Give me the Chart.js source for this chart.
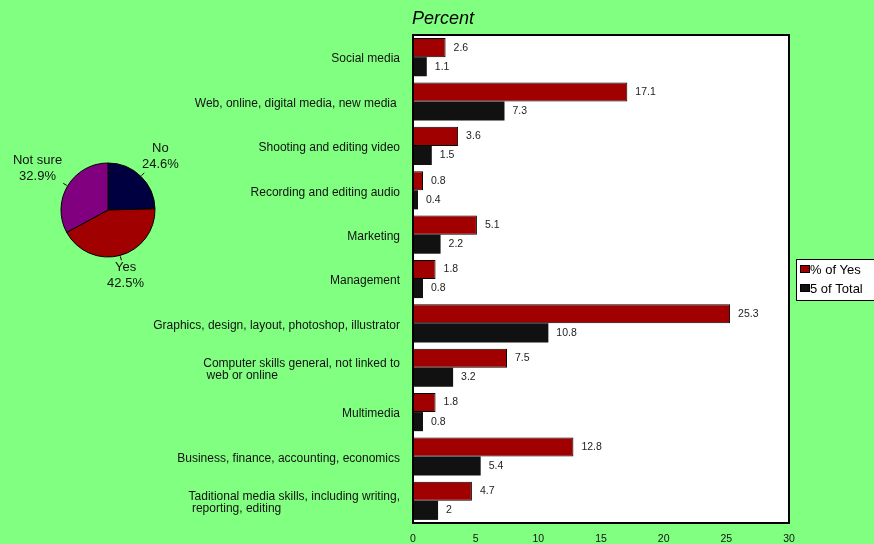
<!DOCTYPE html>
<html><head><meta charset="utf-8">
<script src="https://cdn.jsdelivr.net/npm/chart.js@4.4.1/dist/chart.umd.min.js"></script>
<style>
html,body{margin:0;padding:0;background:#80FF80;}
#wrap{position:relative;width:874px;height:544px;overflow:hidden;}
#bar{position:absolute;left:0;top:0;}
#pie{position:absolute;left:8px;top:120px;}
</style></head>
<body><div id="wrap"><canvas id="bar" width="874" height="544"></canvas><canvas id="pie" width="200" height="180"></canvas></div>
<script>
const categories = [
  ['Social media'],
  ['Web, online, digital media, new media '],
  ['Shooting and editing video'],
  ['Recording and editing audio'],
  ['Marketing'],
  ['Management'],
  ['Graphics, design, layout, photoshop, illustrator'],
  ['Computer skills general, not linked to', ' web or online'],
  ['Multimedia'],
  ['Business, finance, accounting, economics'],
  ['Taditional media skills, including writing,', ' reporting, editing']
];
const pctOfYes = [2.6, 17.1, 3.6, 0.8, 5.1, 1.8, 25.3, 7.5, 1.8, 12.8, 4.7];
const pctOfTotal = [1.1, 7.3, 1.5, 0.4, 2.2, 0.8, 10.8, 3.2, 0.8, 5.4, 2];
const seriesNames = ['% of Yes', '5 of Total'];
const xTicks = [0, 5, 10, 15, 20, 25, 30];
const axisTitle = 'Percent';
const pieLabels = ['No', 'Yes', 'Not sure'];
const pieValues = [24.6, 42.5, 32.9];

const FONT = 'Arial, "Liberation Sans", sans-serif';
const RED = '#A00000', BLK = '#111111';

const framePlugin = {
  id: 'frame',
  beforeDatasetsDraw(chart) {
    const {ctx, chartArea: a} = chart;
    ctx.save();
    ctx.fillStyle = '#ffffff';
    ctx.fillRect(a.left, a.top, a.right - a.left, a.bottom - a.top);
    ctx.restore();
  },
  afterDatasetsDraw(chart) {
    const {ctx, chartArea: a} = chart;
    ctx.save();
    ctx.strokeStyle = '#000';
    ctx.lineWidth = 2;
    ctx.strokeRect(a.left, a.top, a.right - a.left, a.bottom - a.top);
    // value labels
    ctx.font = '10.5px ' + FONT;
    ctx.fillStyle = '#222';
    ctx.textBaseline = 'middle';
    ctx.textAlign = 'left';
    chart.data.datasets.forEach((ds, di) => {
      const meta = chart.getDatasetMeta(di);
      meta.data.forEach((bar, i) => {
        ctx.fillText(String(ds.data[i]), bar.x + 8, bar.y);
      });
    });
    // category labels
    const ys = chart.scales.y;
    ctx.font = '12px ' + FONT;
    ctx.fillStyle = '#111';
    categories.forEach((lines, i) => {
      const cy = ys.getPixelForValue(i);
      let w = 0;
      lines.forEach(l => { w = Math.max(w, ctx.measureText(l).width); });
      const x = 400 - w;
      const lh = 12;
      const y0 = cy - (lines.length - 1) * lh / 2 + 2;
      lines.forEach((l, k) => ctx.fillText(l, x, y0 + k * lh));
    });
    // axis title
    ctx.font = 'italic 18px ' + FONT;
    ctx.fillStyle = '#000';
    ctx.fillText(axisTitle, a.left - 1, 19);
    // legend
    const lx = 796, ly = 259, lw = 90, lhh = 41;
    ctx.fillStyle = '#fff';
    ctx.fillRect(lx, ly, lw, lhh);
    ctx.strokeStyle = '#000';
    ctx.lineWidth = 1;
    ctx.strokeRect(lx + 0.5, ly + 0.5, lw, lhh);
    ctx.font = '13px ' + FONT;
    chart.data.datasets.forEach((ds, di) => {
      const yy = ly + 10 + di * 19;
      ctx.fillStyle = ds.backgroundColor;
      ctx.fillRect(lx + 4, yy - 4, 10, 8);
      ctx.strokeStyle = '#000';
      ctx.strokeRect(lx + 4.5, yy - 3.5, 9, 7);
      ctx.fillStyle = '#000';
      ctx.fillText(ds.label, lx + 14, yy + 1);
    });
    ctx.restore();
  }
};

new Chart(document.getElementById('bar'), {
  type: 'bar',
  data: {
    labels: categories,
    datasets: [
      {label: seriesNames[0], data: pctOfYes, backgroundColor: RED, borderColor: '#000', borderWidth: 1, borderSkipped: false},
      {label: seriesNames[1], data: pctOfTotal, backgroundColor: BLK, borderColor: '#000', borderWidth: 0}
    ]
  },
  plugins: [framePlugin],
  options: {
    indexAxis: 'y',
    responsive: false,
    animation: false,
    layout: {padding: {top: 35, right: 85, bottom: 0, left: 0}},
    datasets: {bar: {barPercentage: 1, categoryPercentage: 0.86}},
    plugins: {legend: {display: false}, tooltip: {enabled: false}},
    scales: {
      x: {
        min: 0, max: 30,
        afterBuildTicks(s) { s.ticks = xTicks.map(v => ({value: v})); },
        grid: {display: false, drawTicks: false},
        border: {display: false},
        ticks: {font: {size: 10.5, family: FONT}, color: '#111', padding: 10},
        afterFit(s) { s.height = 21; }
      },
      y: {
        grid: {display: false, drawTicks: false},
        border: {display: false},
        ticks: {display: false},
        afterFit(s) { s.width = 413; }
      }
    }
  }
});

const pieLabelPlugin = {
  id: 'pieLabels',
  afterDatasetsDraw(chart) {
    const {ctx} = chart;
    const meta = chart.getDatasetMeta(0);
    ctx.save();
    ctx.font = '13px ' + FONT;
    ctx.fillStyle = '#111';
    ctx.strokeStyle = '#000';
    ctx.lineWidth = 1;
    ctx.textAlign = 'center';
    ctx.textBaseline = 'middle';
    const dists = [75, 68, 82];
    meta.data.forEach((arc, i) => {
      const mid = (arc.startAngle + arc.endAngle) / 2;
      const cx = arc.x, cy = arc.y, r = arc.outerRadius;
      const c = Math.cos(mid), s = Math.sin(mid);
      ctx.beginPath();
      ctx.moveTo(cx + c * (r + 1), cy + s * (r + 1));
      ctx.lineTo(cx + c * (r + 5), cy + s * (r + 5));
      ctx.stroke();
      const tx = cx + c * dists[i], ty = cy + s * dists[i];
      ctx.fillText(pieLabels[i], tx, ty - 8);
      ctx.fillText(pieValues[i].toFixed(1) + '%', tx, ty + 8);
    });
    ctx.restore();
  }
};

new Chart(document.getElementById('pie'), {
  type: 'pie',
  data: {
    labels: pieLabels,
    datasets: [{data: pieValues, backgroundColor: ['#000040', RED, '#800080'], borderColor: '#000', borderWidth: 1}]
  },
  plugins: [pieLabelPlugin],
  options: {
    responsive: false,
    animation: false,
    radius: 47,
    plugins: {legend: {display: false}, tooltip: {enabled: false}}
  }
});
</script>
</body></html>
